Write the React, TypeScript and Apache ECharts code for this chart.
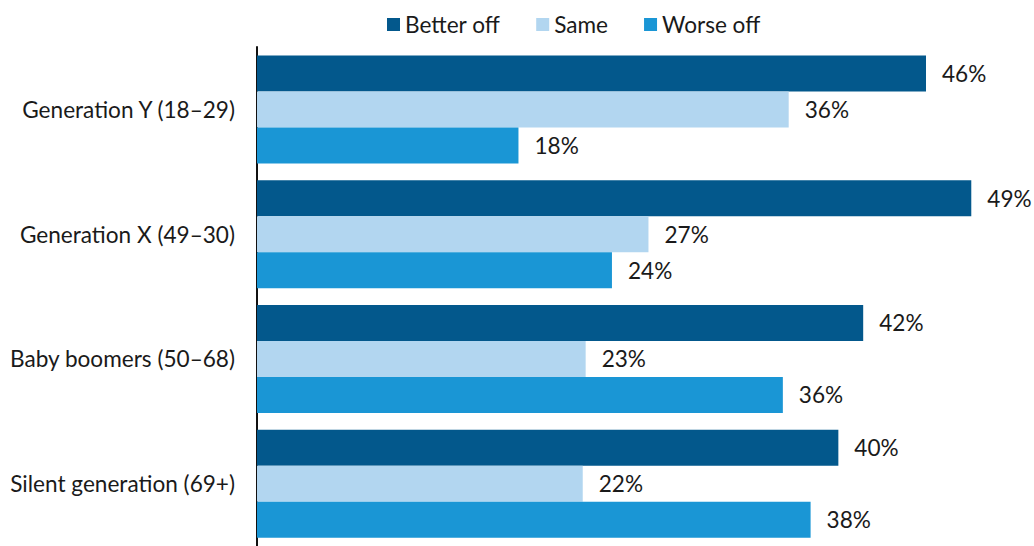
import React, { useEffect, useRef } from "react";
import * as echarts from "echarts";

const categories = [
  "Generation Y (18–29)",
  "Generation X (49–30)",
  "Baby boomers (50–68)",
  "Silent generation (69+)",
];
const seriesNames = ["Better off", "Same", "Worse off"];
const betterOff = [45.8, 48.9, 41.5, 39.8];
const same = [36.4, 26.8, 22.5, 22.3];
const worseOff = [17.9, 24.3, 36.0, 37.9];
const colors = ["#03588c", "#b2d6f0", "#1a96d5"];

export default function App() {
  const ref = useRef<HTMLDivElement>(null);
  useEffect(() => {
    const chart = echarts.init(ref.current!, null, { renderer: "svg" });
    const values = [betterOff, same, worseOff];
    const font = { fontFamily: "Lato", fontSize: 22.6, color: "#1a1a1a", fontWeight: "normal" as const };
    chart.setOption({
      animation: false,
      textStyle: { fontFamily: "Lato" },
      legend: {
        top: 8,
        left: 382,
        itemWidth: 13,
        itemHeight: 13,
        itemGap: 36,
        icon: "rect",
        textStyle: { ...font, padding: [0, 0, 0, 0] },
        data: seriesNames,
      },
      grid: { left: 257, top: 47, width: 14.607 * 52, height: 503, containLabel: false },
      xAxis: {
        type: "value",
        min: 0,
        max: 52,
        show: false,
        splitLine: { show: false },
      },
      yAxis: {
        type: "category",
        data: categories,
        inverse: true,
        axisLine: { show: true, lineStyle: { color: "#111", width: 2 } },
        axisTick: { show: false },
        axisLabel: { ...font, margin: 22 },
      },
      series: seriesNames.map((name, i) => ({
        name,
        type: "bar",
        data: values[i],
        barWidth: 36,
        barGap: "0%",
        itemStyle: { color: colors[i] },
        label: {
          show: true,
          position: "right",
          distance: 16,
          formatter: (p: any) => Math.round(p.value) + "%",
          ...font,
        },
      })),
    });
    return () => chart.dispose();
  }, []);
  return (
    <div
      ref={ref}
      style={{ position: "fixed", left: 0, top: 0, width: 1034, height: 546, background: "#fff" }}
    />
  );
}
